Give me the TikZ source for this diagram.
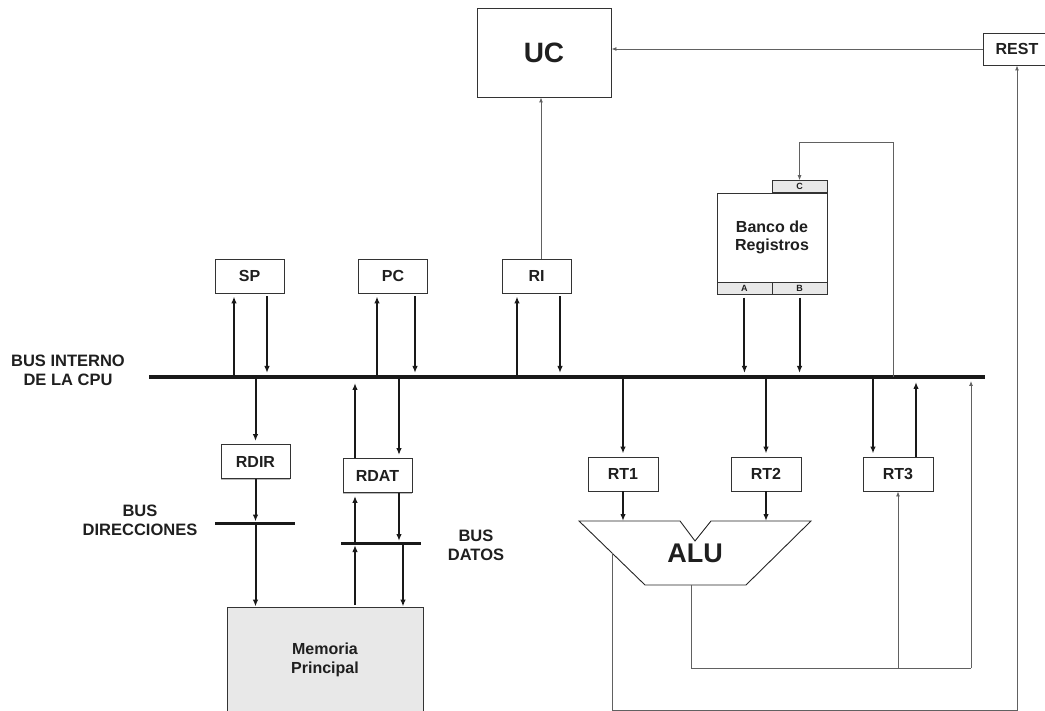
\documentclass[tikz,border=0pt]{standalone}
\usepackage{fontspec}
\setmainfont{Liberation Sans}
\usetikzlibrary{arrows.meta,positioning,calc,shadows}

\begin{document}
\begin{tikzpicture}[x=1pt, y=-1pt,
  reg/.style={draw=black!80, fill=white, line width=0.9pt, align=center,
              text=black!88, font=\fontsize{16}{18.5}\selectfont\bfseries,
              inner sep=0pt, minimum height=34pt, minimum width=69pt,
              drop shadow={shadow xshift=0pt, shadow yshift=-1.3pt, opacity=0.55}},
  port/.style={draw=black!80, fill=black!9, line width=0.8pt, inner sep=0pt,
               minimum width=55pt, minimum height=11.5pt, text=black!88,
               font=\fontsize{9}{9}\selectfont\bfseries},
  buslabel/.style={align=center, text=black!88,
                   font=\fontsize{16.5}{19}\selectfont\bfseries},
  thk/.style={line width=2pt, black!90, -{Latex[length=7pt,width=5.5pt]}},
  thn/.style={line width=0.9pt, draw=black!62, -{Latex[length=5pt,width=4pt]}},
  busline/.style={line width=3.5pt, black!90}
]
\useasboundingbox (0,0) rectangle (1045,711);
\clip (0,0) rectangle (1045,711);

% buses
\coordinate (busL) at (149,377);
\coordinate (busR) at (985,377);
\coordinate (dirL) at (215,523);
\coordinate (dirR) at (295,523);
\coordinate (datL) at (341,543);
\coordinate (datR) at (421,543);
\draw[busline] (busL) -- (busR);
\draw[busline, line width=3pt] (dirL) -- (dirR);
\draw[busline, line width=3pt] (datL) -- (datR);
\node[buslabel] (lbint) at (68,370.5) {BUS INTERNO\\DE LA CPU};
\node[buslabel] (lbdir) at (140,520) {BUS\\DIRECCIONES};
\node[buslabel] (lbdat) at (476,545.5) {BUS\\DATOS};

% registers
\node[reg, minimum width=134pt, minimum height=89pt,
      font=\fontsize{28}{30}\selectfont\bfseries] (uc) at (544,52.5) {UC};
\node[reg, minimum width=68pt, minimum height=32pt] (rest) at (1017,49) {REST};
\node[reg] (sp) at (249.5,276) {SP};
\node[reg] (pc) at (393,276) {PC};
\node[reg] (ri) at (536.5,276) {RI};
\node[reg, minimum width=110pt, minimum height=89pt] (banco) at (772,237.5) {Banco de\\Registros};
\node[port, anchor=north west] (bancoA) at (banco.south west) {A};
\node[port, anchor=north east] (bancoB) at (banco.south east) {B};
\node[port, anchor=south east] (bancoC) at (banco.north east) {C};
\node[reg] (rdir) at (255.5,461.5) {RDIR};
\node[reg] (rdat) at (377.5,475.5) {RDAT};
\node[reg, minimum width=70pt] (rt1) at (623,474) {RT1};
\node[reg, minimum width=70pt] (rt2) at (766,474) {RT2};
\node[reg, minimum width=70pt] (rt3) at (898,474) {RT3};
\node[reg, fill=black!9, minimum width=196pt, minimum height=106pt] (mem) at (325,660) {Memoria\\Principal};

% ALU
\coordinate (aluTop) at (695,521);
\coordinate (aluOut) at (691,585);
\coordinate (aluFlag) at (612,553);
\draw[line width=0.9pt, black!85] (579,521) -- (680,521) -- (695,541) -- (711,521)
  -- (811,521) -- (746,585) -- (645,585) -- cycle;
\node[text=black!88, font=\fontsize{27}{27}\selectfont\bfseries] (alu) at (695,553) {ALU};

% taps on the internal bus
\coordinate (spU) at (234,377);
\coordinate (spD) at (267,377);
\coordinate (pcU) at (377,377);
\coordinate (pcD) at (415,377);
\coordinate (riU) at (517,377);
\coordinate (riD) at (560,377);
\coordinate (riOut) at (541,0);
\coordinate (rdatU) at (355,377);
\coordinate (rdatD) at (399,377);
\coordinate (memD) at (403,543);
\coordinate (rt3D) at (873,377);
\coordinate (rt3U) at (916,377);
\coordinate (fbB) at (893,377);
\coordinate (fbT) at (893,142);
\coordinate (outR) at (971,668);
\coordinate (flagB) at (1017,710);

\draw[thk, shorten >=3pt] (spU) -- (spU |- sp.south);
\draw[thk, shorten <=3pt, shorten >=4pt] (spD |- sp.south) -- (spD);
\draw[thk, shorten >=3pt] (pcU) -- (pcU |- pc.south);
\draw[thk, shorten <=3pt, shorten >=4pt] (pcD |- pc.south) -- (pcD);
\draw[thk, shorten >=3pt] (riU) -- (riU |- ri.south);
\draw[thk, shorten <=3pt, shorten >=4pt] (riD |- ri.south) -- (riD);
\draw[thk, shorten <=3pt, shorten >=4pt] (bancoA.south) -- (bancoA.south |- busL);
\draw[thk, shorten <=3pt, shorten >=4pt] (bancoB.south) -- (bancoB.south |- busL);

\draw[thk, shorten >=3pt] (rdir.north |- busL) -- (rdir.north);
\draw[thk, shorten >=1.5pt] (rdir.south) -- (rdir.south |- dirL);
\draw[thk] (rdir.south |- dirL) -- (rdir.south |- mem.north);
\draw[thk, shorten >=6pt] (rdatU |- rdat.north) -- (rdatU);
\draw[thk, shorten >=3pt] (rdatD) -- (rdatD |- rdat.north);
\draw[thk, shorten <=1.5pt, shorten >=3pt] (rdatU |- datL) -- (rdatU |- rdat.south);
\draw[thk, shorten >=2pt] (rdatD |- rdat.south) -- (rdatD |- datL);
\draw[thk, shorten <=1.5pt, shorten >=2pt] (rdatU |- mem.north) -- (rdatU |- datL);
\draw[thk] (memD) -- (memD |- mem.north);

\draw[thk, shorten >=3pt] (rt1.north |- busL) -- (rt1.north);
\draw[thk, shorten >=3pt] (rt2.north |- busL) -- (rt2.north);
\draw[thk, shorten >=3pt] (rt3D) -- (rt3D |- rt3.north);
\draw[thk, shorten >=5pt] (rt3U |- rt3.north) -- (rt3U);
\draw[thk] (rt1.south) -- (rt1.south |- aluTop);
\draw[thk] (rt2.south) -- (rt2.south |- aluTop);

% control and feedback lines
\draw[thn] (riOut |- ri.north) -- (riOut |- uc.south);
\draw[thn] (rest.west) -- (rest.west -| uc.east);
\draw[thn] (fbB) -- (fbT) -| (bancoC.north);
\draw[thn, -] (aluOut) |- (outR);
\draw[thn, shorten >=4pt] (outR) -- (outR |- busL);
\draw[thn] (rt3.south |- outR) -- (rt3.south);
\draw[thn] (aluFlag) |- (flagB) -- (rest.south);
\end{tikzpicture}
\end{document}
